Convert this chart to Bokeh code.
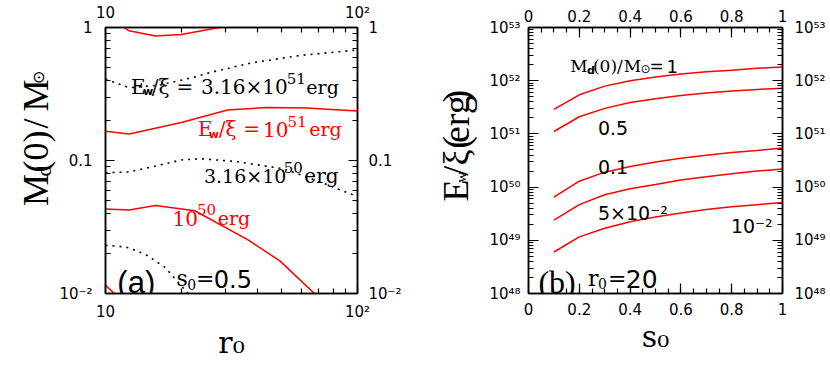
from bokeh.plotting import figure
from bokeh.models import FixedTicker, LogAxis, LinearAxis, Label, Range1d
from bokeh.layouts import row
from bokeh.embed import file_html
from bokeh.resources import INLINE

# ------------------------------------------------------------------ data
# panel (a): s0 = 0.5 ; contours of E_w/xi in the (r0, Md(0)/Msun) plane
a_r_red_1e52 = [11.86, 12.4, 15.8, 20.0, 28.3]
a_m_red_1e52 = [1.0, 0.944, 0.862, 0.887, 1.0]
a_r_red_1e51 = [10.0, 12.4, 20.0, 30.5, 43.7, 63.0, 100.0]
a_m_red_1e51 = [0.166, 0.158, 0.193, 0.240, 0.250, 0.248, 0.236]
a_r_red_1e50 = [10.0, 12.4, 15.8, 22.6, 36.5, 49.2, 67.5]
a_m_red_1e50 = [0.0431, 0.0425, 0.0459, 0.0419, 0.0255, 0.0176, 0.0100]
a_r_red_1e49 = [10.0, 10.84]
a_m_red_1e49 = [0.0115, 0.0100]
a_r_dot_316e51 = [10.0, 12.4, 16.5, 21.9, 26.2, 37.6, 58.9, 100.0]
a_m_dot_316e51 = [0.410, 0.352, 0.370, 0.418, 0.460, 0.540, 0.616, 0.678]
a_r_dot_316e50 = [10.0, 12.4, 15.3, 20.0, 24.0, 32.4, 50.6, 62.6, 79.4, 100.0]
a_m_dot_316e50 = [0.0810, 0.0820, 0.0895, 0.101, 0.103, 0.0986, 0.0869, 0.0754, 0.0635, 0.0535]
a_r_dot_316e49 = [10.0, 12.04, 14.4, 17.25, 19.45, 21.3]
a_m_dot_316e49 = [0.0230, 0.0224, 0.0197, 0.0157, 0.0121, 0.0100]

# panel (b): r0 = 20 ; E_w/xi (erg) versus s0 for several Md(0)/Msun
b_s0 = [0.1, 0.2, 0.3, 0.4, 0.5, 0.6, 0.7, 0.8, 0.9, 1.0]
b_md_1 = [2.88e51, 5.43e51, 7.91e51, 1.00e52, 1.17e52, 1.34e52, 1.48e52, 1.58e52, 1.71e52, 1.81e52]
b_md_05 = [1.11e51, 2.10e51, 3.02e51, 3.89e51, 4.60e51, 5.25e51, 5.89e51, 6.40e51, 6.86e51, 7.24e51]
b_md_01 = [6.46e49, 1.29e50, 1.91e50, 2.45e50, 2.95e50, 3.47e50, 3.98e50, 4.47e50, 4.90e50, 5.43e50]
b_md_005 = [2.40e49, 4.68e49, 7.19e49, 9.33e49, 1.12e50, 1.36e50, 1.57e50, 1.78e50, 2.00e50, 2.19e50]
b_md_001 = [6.03e48, 1.16e49, 1.68e49, 2.24e49, 2.75e49, 3.27e49, 3.80e49, 4.27e49, 4.68e49, 5.13e49]

# ticks
a_x_ticks = [10, 100]
a_x_labels = ["10", "10²"]
a_x_minor = [20, 30, 40, 50, 60, 70, 80, 90]
a_y_ticks = [0.01, 0.1, 1.0]
a_y_labels = ["10⁻²", "0.1", "1"]
a_y_minor = [k * 0.01 for k in range(2, 10)] + [k * 0.1 for k in range(2, 10)]
b_x_ticks = [0.0, 0.2, 0.4, 0.6, 0.8, 1.0]
b_x_labels = ["0", "0.2", "0.4", "0.6", "0.8", "1"]
b_x_minor = [k * 0.05 for k in range(1, 20)]
b_y_ticks = [1e48, 1e49, 1e50, 1e51, 1e52, 1e53]
b_y_labels = ["10⁴⁸", "10⁴⁹", "10⁵⁰", "10⁵¹", "10⁵²", "10⁵³"]
b_y_minor = [k * 10.0 ** e for e in range(48, 53) for k in range(2, 10)]

RED = "#ff0000"
SERIF = "DejaVu Serif"
SANS = "DejaVu Sans"
TIMES = "Liberation Serif"
H = 380
ROT = 1.5707963


def style_axis(ax, ticks, minor, labels, standoff, major_in):
    ax.ticker = FixedTicker(ticks=ticks, minor_ticks=minor)
    ax.major_label_overrides = dict(zip(ticks, labels))
    ax.major_tick_in = major_in
    ax.major_tick_out = 0
    ax.minor_tick_in = 5
    ax.minor_tick_out = 0
    ax.axis_line_width = 1.5
    ax.axis_line_color = "black"
    ax.major_tick_line_width = 1.2
    ax.minor_tick_line_width = 1.2
    ax.major_label_text_font = SANS
    ax.major_label_text_font_size = "15px"
    ax.major_label_text_color = "black"
    ax.major_label_standoff = standoff


def xlabel(ax, text):
    ax.axis_label = text
    ax.axis_label_text_font = SERIF
    ax.axis_label_text_font_size = "30px"
    ax.axis_label_text_font_style = "normal"
    ax.axis_label_text_color = "black"
    ax.axis_label_standoff = 1


def add_text(p, x, y, text, size, font=SERIF, color="black", angle=0.0, style="normal", align="left"):
    p.add_layout(Label(x=x, y=y, text=text, text_font=font,
                       text_font_size=f"{size}px", text_color=color, angle=angle,
                       text_align=align, text_baseline="alphabetic",
                       text_font_style=style))


# page pixel -> data helpers for text placement
def pa_xy(X, Y):
    return 10 ** (1 + (X - 103.0) / 256.0), 10 ** (-(Y - 24.0) / 134.5)


def pb_xy(X, Y):
    return (X - 528.0) / 256.0, 10 ** (53 - (Y - 24.0) / 53.8)


def text_strip(x0, x1):
    # a bare strip whose coordinates are page pixels, holding rotated axis titles
    s = figure(width=x1 - x0, height=H, x_range=Range1d(x0, x1), y_range=Range1d(H, 0),
               output_backend="svg", toolbar_location=None, title_location=None,
               x_axis_location=None, y_axis_location=None,
               min_border_left=0, min_border_right=0, min_border_top=0, min_border_bottom=0)
    s.grid.visible = False
    s.outline_line_color = None
    return s


# ------------------------------------------------------------------ y title (a)
ya = text_strip(0, 56)
for X, Y, t, s in [(35, 232, "M", 36), (43, 205, "d", 22), (35, 177, "(0)", 36),
                   (35, 137, "/", 36), (35, 97, "M", 36), (38, 71, "⊙", 16)]:
    add_text(ya, X, Y, t, s, font=TIMES, angle=ROT, align="center")

# ------------------------------------------------------------------ panel (a)
pa = figure(width=348, height=H, x_axis_type="log", y_axis_type="log",
            x_range=Range1d(10, 100), y_range=Range1d(0.01, 1),
            output_backend="svg", toolbar_location=None, title_location=None,
            min_border_left=47, min_border_right=45, min_border_top=24, min_border_bottom=H - 293)
pa.xgrid.visible = False
pa.ygrid.visible = False
pa.outline_line_color = "black"
pa.outline_line_width = 1.5
pa.add_layout(LogAxis(), "above")
pa.add_layout(LogAxis(), "right")
style_axis(pa.below[0], a_x_ticks, a_x_minor, a_x_labels, 9, 9)
style_axis(pa.above[0], a_x_ticks, a_x_minor, a_x_labels, 6, 9)
style_axis(pa.left[0], a_y_ticks, a_y_minor, a_y_labels, 13, 9)
style_axis(pa.right[0], a_y_ticks, a_y_minor, a_y_labels, 11, 9)
xlabel(pa.below[0], "r₀")

for xs, ys in [(a_r_red_1e52, a_m_red_1e52), (a_r_red_1e51, a_m_red_1e51),
               (a_r_red_1e50, a_m_red_1e50), (a_r_red_1e49, a_m_red_1e49)]:
    pa.line(xs, ys, line_color=RED, line_width=1.5)
for xs, ys in [(a_r_dot_316e51, a_m_dot_316e51), (a_r_dot_316e50, a_m_dot_316e50),
               (a_r_dot_316e49, a_m_dot_316e49)]:
    pa.line(xs, ys, line_color="black", line_width=1.6, line_dash="2 5")

# label 3.16x10^51 erg (black)
for X, Y, t, s, f, st in [(129, 84, "E", 20, SERIF, "normal"), (141, 89, "w", 11, SANS, "bold"),
                          (150, 84, "/ξ", 20, SERIF, "normal"), (175, 84, "=", 20, SERIF, "normal"),
                          (200, 84, "3.16×10", 20, SERIF, "normal"), (287, 76, "51", 15, SERIF, "normal"),
                          (307, 84, "erg", 19, SERIF, "normal")]:
    x, y = pa_xy(X, Y)
    add_text(pa, x, y, t, s, font=f, style=st)
# label 10^51 erg (red)
for X, Y, t, s, f, st in [(197, 127, "E", 20, SERIF, "normal"), (208, 132, "w", 11, SANS, "bold"),
                          (218, 127, "/ξ", 20, SERIF, "normal"), (243, 127, "=", 20, SERIF, "normal"),
                          (263, 127, "10", 20, SERIF, "normal"), (288, 119, "51", 15, SERIF, "normal"),
                          (310, 127, "erg", 19, SERIF, "normal")]:
    x, y = pa_xy(X, Y)
    add_text(pa, x, y, t, s, font=f, color=RED, style=st)
# label 3.16x10^50 erg (black)
for X, Y, t, s in [(203, 174, "3.16×10", 19), (284, 166, "50", 15), (305, 174, "erg", 20)]:
    x, y = pa_xy(X, Y)
    add_text(pa, x, y, t, s)
# label 10^50 erg (red)
for X, Y, t, s in [(171, 217, "10", 20), (196, 208, "50", 15), (217, 217, "erg", 19)]:
    x, y = pa_xy(X, Y)
    add_text(pa, x, y, t, s, color=RED)
# (a) s0=0.5
for X, Y, t, s, f in [(115, 282, "(a)", 31, "Liberation Sans"), (175, 278, "s", 22, SERIF),
                      (186, 284, "0", 14, SERIF), (195, 278, "=", 22, SANS), (213, 278, "0.5", 24, SANS)]:
    x, y = pa_xy(X, Y)
    add_text(pa, x, y, t, s, font=f)

# ------------------------------------------------------------------ y title (b)
yb = text_strip(404, 486)
for X, Y, t, s in [(455, 233, "E", 36), (460, 214, "w", 15), (455, 193, "/ξ", 36),
                   (455, 164, "(", 38), (455, 131, "erg", 38), (455, 98, ")", 38)]:
    add_text(yb, X, Y, t, s, font=TIMES, angle=ROT, align="center")

# ------------------------------------------------------------------ panel (b)
pb = figure(width=342, height=H, y_axis_type="log",
            x_range=Range1d(0, 1), y_range=Range1d(1e48, 1e53),
            output_backend="svg", toolbar_location=None, title_location=None,
            min_border_left=42, min_border_right=44, min_border_top=24, min_border_bottom=H - 293)
pb.xgrid.visible = False
pb.ygrid.visible = False
pb.outline_line_color = "black"
pb.outline_line_width = 1.5
pb.add_layout(LinearAxis(), "above")
pb.add_layout(LogAxis(), "right")
style_axis(pb.below[0], b_x_ticks, b_x_minor, b_x_labels, 9, 10)
style_axis(pb.above[0], b_x_ticks, b_x_minor, b_x_labels, 6, 10)
style_axis(pb.left[0], b_y_ticks, b_y_minor, b_y_labels, 8, 10)
style_axis(pb.right[0], b_y_ticks, b_y_minor, b_y_labels, 12, 10)
xlabel(pb.below[0], "s₀")

for ys in [b_md_1, b_md_05, b_md_01, b_md_005, b_md_001]:
    pb.line(b_s0, ys, line_color=RED, line_width=1.5)

for X, Y, t, s, f, st in [(570, 63, "M", 17, SERIF, "normal"), (587, 67, "d", 11, SANS, "bold"),
                          (593, 63, "(0)/", 17, SERIF, "normal"), (624, 63, "M", 17, SERIF, "normal"),
                          (641, 66, "⊙", 12, SANS, "normal"), (650, 63, "=", 17, SANS, "normal"),
                          (667, 63, "1", 18, SANS, "normal"),
                          (598, 126, "0.5", 19, SANS, "normal"), (598, 165, "0.1", 19, SANS, "normal"),
                          (598, 212, "5×10⁻²", 19, SANS, "normal"), (732, 225, "10⁻²", 19, SANS, "normal"),
                          (538, 281, "(b)", 32, TIMES, "normal"),
                          (588, 278, "r", 22, SERIF, "normal"), (598, 283, "0", 14, SERIF, "normal"),
                          (608, 278, "=", 22, SANS, "normal"), (626, 278, "20", 25, SANS, "normal")]:
    x, y = pb_xy(X, Y)
    add_text(pb, x, y, t, s, font=f, style=st)

layout = row(ya, pa, yb, pb)
open("out.html", "w").write(file_html(layout, INLINE))
